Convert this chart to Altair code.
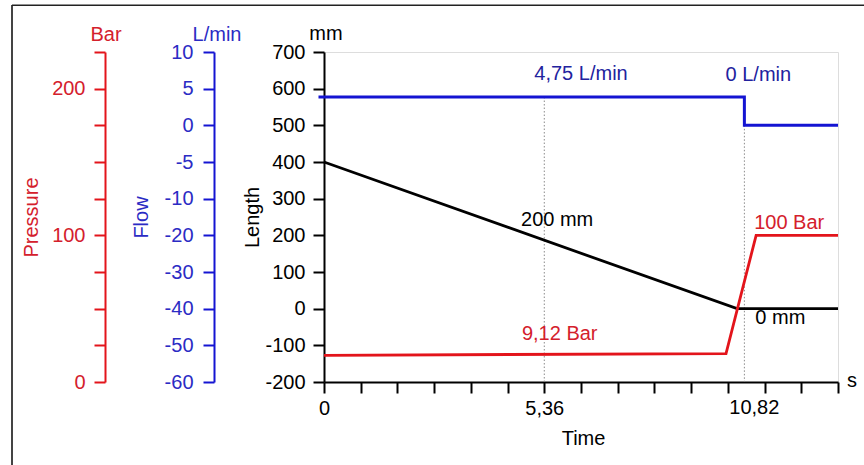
import altair as alt
import pandas as pd

FONT = "Liberation Sans"
FS = 20
W = 514
H = 330

RED_LINE = "#e3141b"
RED_TEXT = "#d4202c"
BLUE_LINE = "#1414d2"
BLUE_AXIS = "#2b2bc4"
BLUE_TEXT = "#22229e"

# ---------------- data (time in drawn axis units, one unit per tick) -------------
length_time = [0, 11.25, 14]
length_mm = [400, 0, 0]

pressure_time = [0, 10.95, 11.77, 14]
pressure_bar = [18.2, 19.4, 100, 100]

flow_time = [-0.15, 11.45, 11.45, 14]
flow_lpm = [3.86, 3.86, 0, 0]

marker_time = [6, 11.45]
marker_flow = [3.86, 0]

flow_note_text = ["4,75 L/min", "0 L/min"]
flow_note_time = [7.0, 11.83]
flow_note_val = [6.14, 6.07]

length_note_text = ["200 mm", "0 mm"]
length_note_time = [6.35, 12.43]
length_note_val = [224.6, -40.7]

pressure_note_text = ["9,12 Bar", "100 Bar"]
pressure_note_time = [6.42, 12.67]
pressure_note_val = [28.4, 104.1]

time_ticks = list(range(0, 15))
time_tick_labels = {0: "0", 6: "5,36"}
time_extra_label = ["10,82"]
time_extra_pos = [11.72]

length_ticks = list(range(-200, 701, 100))
pressure_ticks = list(range(0, 226, 25))
pressure_labelled = [0, 100, 200]
flow_ticks = [10, 5, 0, -5, -10, -20, -30, -40, -50, -60]

# ---------------- tables ----------------
df_len = pd.DataFrame({"t": length_time, "v": length_mm})
df_pres = pd.DataFrame({"t": pressure_time, "v": pressure_bar})
df_flow = pd.DataFrame({"t": flow_time, "v": flow_lpm, "i": list(range(len(flow_time)))})
df_mark = pd.DataFrame({"t": marker_time, "v": marker_flow})
df_fnote = pd.DataFrame({"t": flow_note_time, "v": flow_note_val, "txt": flow_note_text})
df_lnote = pd.DataFrame({"t": length_note_time, "v": length_note_val, "txt": length_note_text})
df_pnote = pd.DataFrame({"t": pressure_note_time, "v": pressure_note_val, "txt": pressure_note_text})
df_xextra = pd.DataFrame({"t": time_extra_pos, "txt": time_extra_label})
one = pd.DataFrame({"a": [0]})

label_expr = " : ".join(
    [f"datum.value == {k} ? '{v}'" for k, v in time_tick_labels.items()]
) + " : ''"

common_axis = dict(
    domainWidth=2, tickWidth=2, tickSize=11, labelFontSize=FS, titleFontSize=FS,
    titleFontWeight="normal", labelFont=FONT, titleFont=FONT, grid=False,
    labelOverlap=False, labelFlush=False,
)

x_axis = alt.Axis(
    values=time_ticks, labelExpr=label_expr, title="Time", domainColor="black",
    tickColor="black", labelColor="black", titleColor="black", labelPadding=5,
    titleX=W / 2 + 2, titleY=56, titleBaseline="middle", titleAlign="center",
    **common_axis,
)
x_scale = alt.Scale(domain=[0, 14], nice=False, zero=False)


def X():
    return alt.X("t:Q", scale=x_scale, axis=x_axis)


def left_axis(title, offset, values, dom_col, lab_col, pad, tx, expr):
    return alt.Axis(
        orient="left", offset=offset, values=values, title=title,
        domainColor=dom_col, tickColor=dom_col, labelColor=lab_col, titleColor=lab_col,
        labelPadding=pad, titleX=tx, titleY=H / 2, titleAngle=270, titleAlign="center",
        titleBaseline="middle", labelExpr=expr, **common_axis,
    )


def flow_scale():
    return alt.Scale(domain=[-60, -10, 10], range=[H, H * 4 / 9, 0], nice=False, zero=False)


def len_scale():
    return alt.Scale(domain=[-200, 700], nice=False, zero=False)


def pres_scale():
    return alt.Scale(domain=[0, 225], nice=False, zero=False)


plain = "'' + datum.value"
flow_axis = left_axis("Flow", 110, flow_ticks, BLUE_LINE, BLUE_AXIS, 10, -73, plain)
len_axis = left_axis("Length", 0, length_ticks, "black", "black", 8, -72, plain)
pres_axis = left_axis(
    "Pressure", 219, pressure_ticks, RED_LINE, RED_TEXT, 9, -74,
    "indexof(" + str(pressure_labelled) + ", datum.value) >= 0 ? '' + datum.value : ''",
)

flow_marks = alt.Chart(df_mark).mark_rule(color="#8a8a8a", strokeWidth=1, strokeDash=[1.5, 2]).encode(
    x=X(), y=alt.Y("v:Q", scale=flow_scale(), axis=None), y2=alt.datum(-60)
)
flow_line = alt.Chart(df_flow).mark_line(color=BLUE_LINE, strokeWidth=3).encode(
    x=X(), y=alt.Y("v:Q", scale=flow_scale(), axis=flow_axis), order="i:Q"
)
flow_text = alt.Chart(df_fnote).mark_text(
    color=BLUE_TEXT, font=FONT, fontSize=FS, baseline="alphabetic", align="center"
).encode(x=X(), y=alt.Y("v:Q", scale=flow_scale(), axis=None), text="txt:N")

len_line = alt.Chart(df_len).mark_line(color="black", strokeWidth=2.8).encode(
    x=X(), y=alt.Y("v:Q", scale=len_scale(), axis=len_axis)
)
len_text = alt.Chart(df_lnote).mark_text(
    color="black", font=FONT, fontSize=FS, baseline="alphabetic", align="center"
).encode(x=X(), y=alt.Y("v:Q", scale=len_scale(), axis=None), text="txt:N")

pres_line = alt.Chart(df_pres).mark_line(color=RED_LINE, strokeWidth=2.8).encode(
    x=X(), y=alt.Y("v:Q", scale=pres_scale(), axis=pres_axis)
)
pres_text = alt.Chart(df_pnote).mark_text(
    color=RED_TEXT, font=FONT, fontSize=FS, baseline="alphabetic", align="center"
).encode(x=X(), y=alt.Y("v:Q", scale=pres_scale(), axis=None), text="txt:N")

x_extra = alt.Chart(df_xextra).mark_text(
    color="black", font=FONT, fontSize=FS, baseline="alphabetic", align="center"
).encode(x=X(), y=alt.value(H + 32), text="txt:N")


def unit(txt, x, y, color):
    return alt.Chart(one).mark_text(
        text=txt, color=color, font=FONT, fontSize=FS, baseline="alphabetic", align="center"
    ).encode(x=alt.value(x), y=alt.value(y))


units = [
    unit("Bar", -218, -11, RED_TEXT),
    unit("L/min", -107, -11, BLUE_AXIS),
    unit("mm", 2, -12, "black"),
    unit("s", 528, 335, "black"),
]

frame_left = alt.Chart(one).mark_rule(color="#444444", strokeWidth=2).encode(
    x=alt.value(-312), y=alt.value(-47), y2=alt.value(420)
)
frame_top = alt.Chart(one).mark_rule(color="#222222", strokeWidth=1.5).encode(
    x=alt.value(-312), x2=alt.value(545), y=alt.value(-46.7)
)

chart = alt.layer(
    flow_marks, flow_line, flow_text,
    len_line, len_text,
    pres_line, pres_text,
    x_extra, *units, frame_left, frame_top,
).resolve_scale(y="independent").properties(
    width=W, height=H,
    autosize=alt.AutoSizeParams(type="none"),
    padding={"left": 324, "top": 52, "right": 26, "bottom": 83},
).configure_view(strokeWidth=0).configure(font=FONT, background="white")

chart.save("out.html", embed_options={"renderer": "svg", "actions": False})
